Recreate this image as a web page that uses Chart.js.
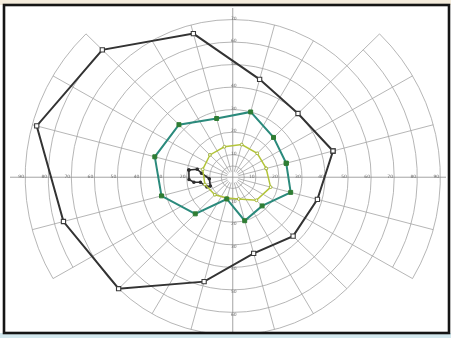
<!DOCTYPE html>
<html>
<head>
<meta charset="utf-8">
<script src="https://cdn.jsdelivr.net/npm/chart.js@4/dist/chart.umd.min.js"></script>
<style>
  html, body { margin: 0; padding: 0; background: #ffffff; }
  #wrap { width: 451px; height: 338px; }
</style>
</head>
<body>
<div id="wrap"><canvas id="field" width="451" height="338"></canvas></div>
<script>
// Meridians (degrees, counter-clockwise from the right horizontal) where each isopter was tested
const meridians = [15, 45, 75, 105, 135, 165, 195, 225, 255, 285, 315, 345];
// Isopter eccentricities (degrees) on those meridians
const isopterLarge  = [45, 40, 45, 66, 80, 88, 76, 70, 48, 35, 37, 38];
const isopterMedium = [24, 25, 30, 27, 33, 35, 32, 23, 10, 20, 18, 26];
const isopterSmall  = [15, 15, 15, 14, 14, 13.5, 12.5, 11, 9.5, 10, 14.5, 17];
// Blind spot outline
const blindSpotMeridians = [170.5, 167, 172.5, 184, 202, 201, 189, 187.5, 183];
const blindSpotEcc       = [19.3, 15.8, 13.7, 10.2, 10.5, 12, 14.2, 17, 19];
// Ring labels along the axes
const horizontalLabels = ['10', '20', '30', '40', '50', '60', '70', '80', '90'];
const verticalLabels   = ['10', '20', '30', '40', '50', '60', '70'];

function toXY(mer, ecc) {
  return mer.map((m, i) => {
    const a = m * Math.PI / 180;
    return { x: ecc[i] * Math.cos(a), y: ecc[i] * Math.sin(a) };
  });
}
function closed(pts) { return pts.concat([pts[0]]); }

const FRAME = { l: 4, t: 5, r: 449, b: 333 };

const perimetryGrid = {
  id: 'perimetryGrid',
  beforeDraw(chart) {
    const ctx = chart.ctx;
    ctx.save();
    ctx.fillStyle = '#f4ecdc';
    ctx.fillRect(0, 0, 451, FRAME.t);
    ctx.fillStyle = '#d3e8ee';
    ctx.fillRect(0, FRAME.b, 451, 338 - FRAME.b);
    ctx.restore();
  },
  beforeDatasetsDraw(chart) {
    const ctx = chart.ctx;
    const xs = chart.scales.x, ys = chart.scales.y;
    const cx = xs.getPixelForValue(0), cy = ys.getPixelForValue(0);
    const kx = xs.getPixelForValue(1) - cx;
    const ky = cy - ys.getPixelForValue(1);
    const P = (deg, r) => {
      const a = deg * Math.PI / 180;
      return [cx + r * kx * Math.cos(a), cy - r * ky * Math.sin(a)];
    };
    const inWedge = d => {
      const n = ((d % 360) + 360) % 360;
      return (n >= 330 || n <= 45) || (n >= 135 && n <= 210);
    };
    ctx.save();
    ctx.beginPath();
    ctx.rect(FRAME.l, FRAME.t, FRAME.r - FRAME.l, FRAME.b - FRAME.t);
    ctx.clip();
    ctx.strokeStyle = '#a3a3a3';
    ctx.lineWidth = 0.8;
    // full rings
    [5, 10, 20, 30, 40, 50, 60, 70].forEach(r => {
      ctx.beginPath();
      ctx.ellipse(cx, cy, r * kx, r * ky, 0, 0, Math.PI * 2);
      ctx.stroke();
    });
    // outer rings only in the temporal / nasal wedges
    [80, 90].forEach(r => {
      [[-30, 45], [135, 210]].forEach(([a0, a1]) => {
        ctx.beginPath();
        ctx.ellipse(cx, cy, r * kx, r * ky, 0, -a1 * Math.PI / 180, -a0 * Math.PI / 180);
        ctx.stroke();
      });
    });
    // meridians every 15 degrees
    for (let d = 0; d < 360; d += 15) {
      if (d % 90 === 0) continue;
      const R = inWedge(d) ? 90 : 70;
      const [x0, y0] = P(d, 2.5), [x1, y1] = P(d, R);
      ctx.beginPath();
      ctx.moveTo(x0, y0);
      ctx.lineTo(x1, y1);
      ctx.stroke();
    }
    // main axes
    ctx.strokeStyle = '#8c8c8c';
    ctx.beginPath();
    ctx.moveTo(10, cy); ctx.lineTo(446, cy);
    ctx.moveTo(cx, 8); ctx.lineTo(cx, FRAME.b);
    ctx.stroke();
    // ring labels
    ctx.fillStyle = '#6e6e6e';
    ctx.font = '4.5px "DejaVu Sans"';
    ctx.textAlign = 'center';
    ctx.textBaseline = 'middle';
    horizontalLabels.forEach((t, i) => {
      const r = (i + 1) * 10;
      ctx.fillText(t, cx - r * kx - 4, cy);
      ctx.fillText(t, cx + r * kx - 4, cy);
    });
    verticalLabels.forEach((t, i) => {
      const r = (i + 1) * 10;
      ctx.fillText(t, cx + 1, cy - r * ky - 1);
      ctx.fillText(t, cx + 1, cy + r * ky + 2);
    });
    ctx.restore();
  },
  afterDraw(chart) {
    const ctx = chart.ctx;
    ctx.save();
    ctx.strokeStyle = '#151515';
    ctx.lineWidth = 2.6;
    ctx.strokeRect(FRAME.l, FRAME.t, FRAME.r - FRAME.l, FRAME.b - FRAME.t);
    ctx.restore();
  }
};

new Chart(document.getElementById('field'), {
  type: 'scatter',
  data: {
    datasets: [
      {
        label: 'V4e',
        data: closed(toXY(meridians, isopterLarge)),
        showLine: true,
        borderColor: '#333333',
        borderWidth: 2,
        pointStyle: 'rect',
        pointRadius: 3,
        pointBackgroundColor: '#ffffff',
        pointBorderColor: '#3a3a3a',
        pointBorderWidth: 1.1
      },
      {
        label: 'III4e',
        data: closed(toXY(meridians, isopterMedium)),
        showLine: true,
        borderColor: '#2b8a7c',
        borderWidth: 2,
        pointStyle: 'rect',
        pointRadius: 2.8,
        pointBackgroundColor: '#2f7d34',
        pointBorderColor: '#2f7d34',
        pointBorderWidth: 1
      },
      {
        label: 'I4e',
        data: closed(toXY(meridians, isopterSmall)),
        showLine: true,
        borderColor: '#b3c43a',
        borderWidth: 1.5,
        pointStyle: 'circle',
        pointRadius: 1.4,
        pointBackgroundColor: '#ffffff',
        pointBorderColor: '#9fb22e',
        pointBorderWidth: 1
      },
      {
        label: 'Blind spot',
        data: closed(toXY(blindSpotMeridians, blindSpotEcc)),
        showLine: true,
        borderColor: '#2e2e2e',
        borderWidth: 1.6,
        pointStyle: 'circle',
        pointRadius: 1,
        pointBackgroundColor: '#2e2e2e',
        pointBorderColor: '#2e2e2e'
      }
    ]
  },
  options: {
    responsive: false,
    devicePixelRatio: 1,
    animation: false,
    layout: { padding: 0 },
    plugins: { legend: { display: false }, tooltip: { enabled: false } },
    elements: { line: { tension: 0 } },
    scales: {
      x: { type: 'linear', min: -98.5, max: 92.2, display: false },
      y: { type: 'linear', min: -68.9, max: 76.2, display: false }
    }
  },
  plugins: [perimetryGrid]
});
</script>
</body>
</html>
